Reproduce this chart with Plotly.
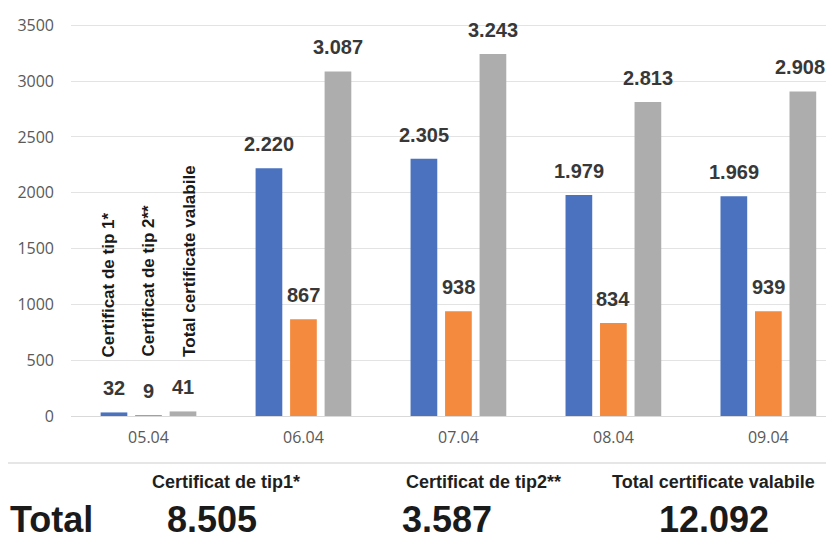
import plotly.graph_objects as go

# ---- data ----
dates = ["05.04", "06.04", "07.04", "08.04", "09.04"]
tip1 = [32, 2220, 2305, 1979, 1969]
tip2 = [9, 867, 938, 834, 939]
total_valabile = [41, 3087, 3243, 2813, 2908]
series_names = ["Certificat de tip 1*", "Certificat de tip 2**", "Total certificate valabile"]
summary_headers = ["Certificat de tip1*", "Certificat de tip2**", "Total certificate valabile"]
summary_totals = [8505, 3587, 12092]
y_ticks = [0, 500, 1000, 1500, 2000, 2500, 3000, 3500]

# ---- style ----
W, H = 826, 541
ML, MR, MT, MB = 71, 0, 3, 125
colors = ["#4a72be", "#f38a3e", "#adadad"]
bargap = 0.332
bargroupgap = 0.226
slot = (1 - bargap) / 3
offsets = [-slot, 0, slot]
bold_family = "Liberation Sans, Arial, sans-serif"
label_font = dict(family=bold_family, size=20, color="#383838", weight="bold")

def fmt(v):
    return f"{v:,}".replace(",", ".")

pw = W - ML - MR
ph = H - MT - MB
def px_x(p):
    return (p - ML) / pw
def px_y(p):
    return (H - MB - p) / ph

fig = go.Figure()
all_series = [tip1, tip2, total_valabile]
for name, vals, c in zip(series_names, all_series, colors):
    fig.add_trace(go.Bar(x=dates, y=vals, name=name, marker=dict(color=c, line=dict(width=0)),
                         hoverinfo="x+y"))

annotations = []
n = len(dates)
for si, vals in enumerate(all_series):
    for i, v in enumerate(vals):
        edge = (i == n - 1 and si == len(all_series) - 1)
        annotations.append(dict(x=i + offsets[si], y=v, xref="x", yref="y", text=fmt(v),
                                showarrow=False, yanchor="bottom", xanchor="center", yshift=11,
                                xshift=-3 if edge else 0,
                                font=label_font))
# rotated series names above first group
rot_shift = [53, 57, 53]
rot_dx = [-0.035, 0.0, 0.045]
for si, name in enumerate(series_names):
    annotations.append(dict(x=0 + offsets[si] + rot_dx[si],
                            y=all_series[si][0], xref="x", yref="y", text=name,
                            showarrow=False, textangle=-90, yanchor="bottom", xanchor="center",
                            yshift=rot_shift[si],
                            font=dict(family=bold_family, size=17, color="#1a1a1a", weight="bold")))

# summary row
hdr_x = [226, 483, 713]
num_x = [212, 447, 714]
for hx, nx, hdr, tot in zip(hdr_x, num_x, summary_headers, summary_totals):
    annotations.append(dict(x=px_x(hx), y=px_y(482), xref="paper", yref="paper", text=hdr,
                            showarrow=False, xanchor="center", yanchor="middle",
                            font=dict(family=bold_family, size=18, color="#1f1f1f", weight="bold")))
    annotations.append(dict(x=px_x(nx), y=px_y(519), xref="paper", yref="paper", text=fmt(tot),
                            showarrow=False, xanchor="center", yanchor="middle",
                            font=dict(family=bold_family, size=36, color="#1a1a1a", weight="bold")))
annotations.append(dict(x=px_x(8), y=px_y(519), xref="paper", yref="paper", text="Total",
                        showarrow=False, xanchor="left", yanchor="middle",
                        font=dict(family=bold_family, size=36, color="#1a1a1a", weight="bold")))

fig.update_layout(
    width=W, height=H,
    margin=dict(l=ML, r=MR, t=MT, b=MB, pad=0),
    paper_bgcolor="white", plot_bgcolor="white",
    barmode="group", bargap=bargap, bargroupgap=bargroupgap,
    showlegend=False,
    annotations=annotations,
    shapes=[dict(type="line", xref="paper", yref="paper", x0=px_x(8), x1=1, y0=px_y(463), y1=px_y(463),
                 line=dict(color="#e6e6e6", width=2))],
    xaxis=dict(type="category", range=[-0.5, 4.372], showgrid=False, showline=True,
               linecolor="#d9d9d9", linewidth=1, ticks="", ticklabelstandoff=7,
               tickfont=dict(family="Open Sans, sans-serif", size=16, color="#595959")),
    yaxis=dict(range=[0, 3700], tickvals=y_ticks, showgrid=True, gridcolor="#e3e3e3", gridwidth=1,
               zeroline=False, showline=False, ticks="", ticklabelstandoff=16,
               tickfont=dict(family="Open Sans, sans-serif", size=16, color="#595959")),
)

fig.write_html("out.html", config={"displayModeBar": False},
               post_script="document.body.style.margin='0';")
